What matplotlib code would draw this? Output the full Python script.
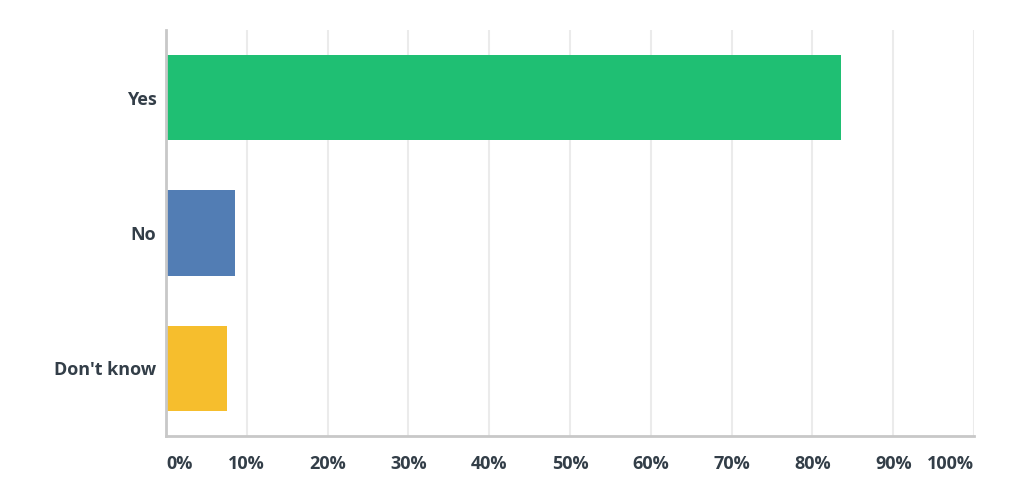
import matplotlib
matplotlib.use("Agg")
import matplotlib.pyplot as plt

categories = ["Yes", "No", "Don't know"]
values = [83.5, 8.5, 7.6]
colors = ["#1fbf73", "#527db4", "#f6be2d"]
tick_values = [0, 10, 20, 30, 40, 50, 60, 70, 80, 90, 100]
tick_labels = [f"{v}%" for v in tick_values]

plt.rcParams['font.family'] = ['Open Sans', 'DejaVu Sans']
text_color = "#333e48"

fig = plt.figure(figsize=(10.36, 4.96), dpi=100)
ax = fig.add_axes([166/1036, 1-436/496, (974-166)/1036, (436-30)/496])

ypos = list(range(len(categories)))
ax.barh(ypos, values, height=0.63, color=colors, zorder=3)
ax.set_ylim(len(categories)-0.5, -0.5)
ax.set_xlim(0, 100)

ax.set_xticks(tick_values)
ax.set_xticklabels(tick_labels)
for i, lab in enumerate(ax.get_xticklabels()):
    lab.set_fontweight('bold')
    lab.set_fontsize(13)
    lab.set_color(text_color)
    if i == 0:
        lab.set_ha('left')
    elif i == len(tick_values)-1:
        lab.set_ha('right')
    else:
        lab.set_ha('center')
ax.tick_params(axis='x', length=0, pad=14)

ax.set_yticks(ypos)
ax.set_yticklabels(categories, fontsize=13, fontweight='bold', color=text_color)
ax.tick_params(axis='y', length=0, pad=7)

ax.grid(axis='x', color='#ebebeb', linewidth=1.5, zorder=0)
ax.grid(axis='y', visible=False)
for s in ['top', 'right']:
    ax.spines[s].set_visible(False)
for s in ['left', 'bottom']:
    ax.spines[s].set_color('#c8c8c8')
    ax.spines[s].set_linewidth(2)
    ax.spines[s].set_zorder(4)

fig.savefig("out.png", dpi=100, facecolor='white')
